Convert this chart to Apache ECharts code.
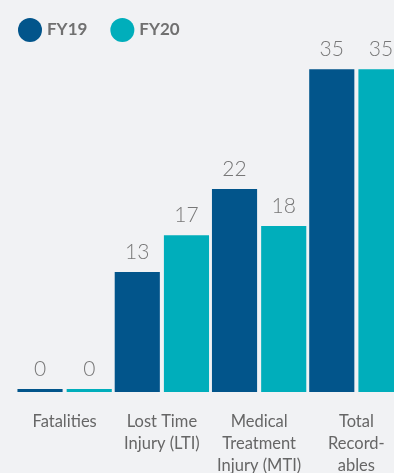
<!DOCTYPE html>
<html><head><meta charset="utf-8">
<script src="https://cdn.jsdelivr.net/npm/echarts@6/dist/echarts.min.js"></script>
<style>html,body{margin:0;padding:0;background:#F1F2F4;overflow:hidden;width:394px;height:473px;}#c{width:405px;height:473px;}</style>
</head><body><div id="c"></div>
<script>
const categories = ['Fatalities', 'Lost Time\nInjury (LTI)', 'Medical\nTreatment\nInjury (MTI)', 'Total\nRecord-\nables'];
const fy19 = [0, 13, 22, 35];
const fy20 = [0, 17, 18, 35];
const seriesNames = ['FY19', 'FY20'];

const chart = echarts.init(document.getElementById('c'));
const labelStyle = { show: true, position: 'top', distance: 9, fontSize: 21, color: '#777', fontFamily: 'Lato', fontWeight: 300 };
chart.setOption({
  backgroundColor: '#F1F2F4',
  animation: false,
  legend: {
    left: 13, top: 13, itemWidth: 24, itemHeight: 24, itemGap: 23, icon: 'circle',
    textStyle: { fontSize: 17, fontWeight: 'bold', color: '#707070', fontFamily: 'Lato' },
    data: seriesNames
  },
  grid: { left: 16, right: 0, top: 23, bottom: 81, outerBoundsMode: 'none', containLabel: false },
  xAxis: {
    type: 'category', data: categories,
    axisLine: { show: false }, axisTick: { show: false },
    axisLabel: { interval: 0, margin: 19, fontSize: 16.5, lineHeight: 22, color: '#666', fontFamily: 'Lato', verticalAlign: 'top' }
  },
  yAxis: { type: 'value', min: 0, max: 40, show: false, splitLine: { show: false } },
  series: [
    { name: seriesNames[0], type: 'bar', data: fy19, barGap: '9%', barCategoryGap: '3%', barMinHeight: 3, itemStyle: { color: '#02558B' }, label: labelStyle },
    { name: seriesNames[1], type: 'bar', data: fy20, barMinHeight: 3, itemStyle: { color: '#00AEBB' }, label: labelStyle }
  ]
});
</script></body></html>
